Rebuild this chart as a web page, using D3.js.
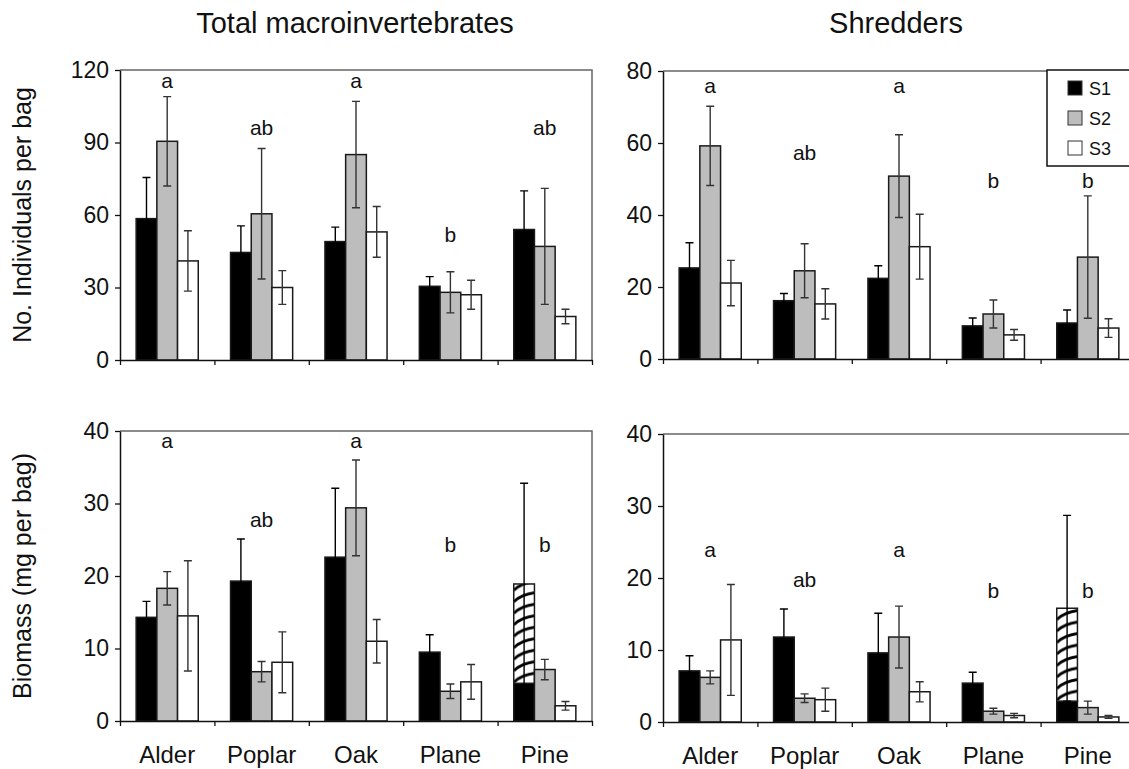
<!DOCTYPE html>
<html>
<head>
<meta charset="utf-8">
<script src="https://cdn.jsdelivr.net/npm/d3@7"></script>
<style>
  body { margin: 0; background: #fff; }
  text { font-family: "Liberation Sans", Arial, sans-serif; fill: #111; }
</style>
</head>
<body>
<div id="chart"></div>
<script>
// --- data ---
const categories = ["Alder", "Poplar", "Oak", "Plane", "Pine"];
const series = ["S1", "S2", "S3"];

// Total macroinvertebrates, No. individuals per bag
const totNoS1 = [58.5, 44.5, 49, 30.5, 54];
const totNoS2 = [90.5, 60.5, 85, 28, 47];
const totNoS3 = [41, 30, 53, 27, 18];
const totNoE1 = [17, 11, 6, 4, 16];
const totNoE2 = [18.5, 27, 22, 8.5, 24];
const totNoE3 = [12.5, 7, 10.5, 6, 3];
const totNoLetters = ["a", "ab", "a", "b", "ab"];
const totNoLetterAt = [112.5, 93, 112.5, 48.8, 93];

// Shredders, No. individuals per bag
const shrNoS1 = [25.3, 16.2, 22.4, 9.2, 10];
const shrNoS2 = [59.2, 24.5, 50.8, 12.5, 28.3];
const shrNoS3 = [21.1, 15.3, 31.2, 6.7, 8.6];
const shrNoE1 = [7, 2, 3.5, 2.2, 3.6];
const shrNoE2 = [11, 7.5, 11.5, 3.9, 17];
const shrNoE3 = [6.3, 4.2, 9, 1.5, 2.6];
const shrNoLetters = ["a", "ab", "a", "b", "b"];
const shrNoLetterAt = [73.9, 55.3, 73.9, 47.5, 47.5];

// Total macroinvertebrates, biomass (mg per bag)
const totBioS1 = [14.3, 19.3, 22.6, 9.5, 5.2];
const totBioS1Hatch = [0, 0, 0, 0, 18.9]; // hatched top of the stacked S1 bar
const totBioS2 = [18.3, 6.8, 29.4, 4.1, 7.1];
const totBioS3 = [14.5, 8.1, 11, 5.4, 2.1];
const totBioE1 = [2.2, 5.8, 9.5, 2.4, 13.9];
const totBioE2 = [2.3, 1.4, 6.6, 1, 1.4];
const totBioE3 = [7.6, 4.2, 3, 2.4, 0.6];
const totBioLetters = ["a", "ab", "a", "b", "b"];
const totBioLetterAt = [37.7, 26.8, 37.7, 23.3, 23.3];

// Shredders, biomass (mg per bag)
const shrBioS1 = [7.1, 11.8, 9.6, 5.4, 2.9];
const shrBioS1Hatch = [0, 0, 0, 0, 15.8];
const shrBioS2 = [6.2, 3.3, 11.8, 1.5, 2.0];
const shrBioS3 = [11.4, 3.1, 4.2, 0.9, 0.7];
const shrBioE1 = [2.1, 3.9, 5.5, 1.5, 12.9];
const shrBioE2 = [0.9, 0.6, 4.3, 0.4, 0.9];
const shrBioE3 = [7.7, 1.6, 1.4, 0.3, 0.2];
const shrBioLetters = ["a", "ab", "a", "b", "b"];
const shrBioLetterAt = [22.9, 18.75, 22.9, 17.2, 17.2];

const yTicksNoTot = [0, 30, 60, 90, 120];
const yTicksNoShr = [0, 20, 40, 60, 80];
const yTicksBio = [0, 10, 20, 30, 40];

const fills = { S1: "#000", S2: "#bdbdbd", S3: "#fff" };

const svg = d3.select("#chart")
    .append("svg")
    .attr("width", 1129)
    .attr("height", 769);

const defs = svg.append("defs");
let hatchId = 0;

function drawPanel(p) {
    const g = svg.append("g");
    const x = d3.scaleBand().domain(categories).range([p.x0, p.x1]);
    const xs = d3.scaleBand().domain(series).range([0, x.bandwidth()]).paddingOuter(0.78);
    const y = d3.scaleLinear().domain([0, p.max]).range([p.yBot, p.yTop]);

    // frame (top + right)
    g.append("path")
        .attr("d", `M${p.x0},${p.yTop}H${p.x1}V${p.yBot}`)
        .attr("fill", "none")
        .attr("stroke", "#666")
        .attr("stroke-width", 1.5);

    const vals = [p.s1, p.s2, p.s3];
    const errs = [p.e1, p.e2, p.e3];

    categories.forEach((c, i) => {
        series.forEach((s, j) => {
            const bx = x(c) + xs(s);
            const bw = xs.bandwidth();
            const v = vals[j][i];
            g.append("rect")
                .attr("x", bx).attr("y", y(v))
                .attr("width", bw).attr("height", y(0) - y(v))
                .attr("fill", fills[s])
                .attr("stroke", "#1a1a1a")
                .attr("stroke-width", 1.5);

            let top = v;
            if (j === 0 && p.hatch && p.hatch[i] > 0) {
                top = p.hatch[i];
                const id = "hatch" + (hatchId++);
                const pat = defs.append("pattern")
                    .attr("id", id)
                    .attr("patternUnits", "userSpaceOnUse")
                    .attr("x", bx).attr("y", y(v))
                    .attr("width", bw).attr("height", 11.5);
                pat.append("rect").attr("width", bw).attr("height", 11.5).attr("fill", "#fff");
                pat.append("path")
                    .attr("d", `M0,10.5 Q${bw * 0.4},3 ${bw},1.5`)
                    .attr("fill", "none").attr("stroke", "#000").attr("stroke-width", 2.8);
                g.append("rect")
                    .attr("x", bx).attr("y", y(top))
                    .attr("width", bw).attr("height", y(v) - y(top))
                    .attr("fill", `url(#${id})`)
                    .attr("stroke", "#1a1a1a")
                    .attr("stroke-width", 1.5);
            }

            // error bar
            const e = errs[j][i];
            const cx = bx + bw / 2;
            const lo = Math.max(0, top - e), hi = top + e;
            g.append("path")
                .attr("d", `M${cx},${y(lo)}V${y(hi)}M${cx - 4},${y(hi)}H${cx + 4}M${cx - 4},${y(lo)}H${cx + 4}`)
                .attr("stroke", j === 0 ? "#000" : "#333")
                .attr("stroke-width", 1.4)
                .attr("fill", "none");
        });

        g.append("text")
            .attr("x", x(c) + x.bandwidth() / 2)
            .attr("y", y(p.letterAt[i]))
            .attr("text-anchor", "middle")
            .style("font-size", "21px")
            .text(p.letters[i]);
    });

    // y axis
    const ya = g.append("g")
        .attr("transform", `translate(${p.x0},0)`)
        .call(d3.axisLeft(y).tickValues(p.ticks).tickSize(5).tickPadding(6).tickSizeOuter(0));
    ya.select(".domain").attr("stroke", "#111").attr("stroke-width", 1.5);
    ya.selectAll(".tick line").attr("stroke", "#111").attr("stroke-width", 1.3);
    ya.selectAll(".tick text").style("font-size", "23px").attr("fill", "#111");

    // x axis with ticks on category boundaries
    const xb = d3.scaleLinear().domain([0, categories.length]).range([p.x0, p.x1]);
    const xa = g.append("g")
        .attr("transform", `translate(0,${p.yBot})`)
        .call(d3.axisBottom(xb).tickValues(d3.range(categories.length + 1)).tickFormat("").tickSize(5).tickSizeOuter(0));
    xa.select(".domain").attr("stroke", "#111").attr("stroke-width", 1.5);
    xa.selectAll(".tick line").attr("stroke", "#111").attr("stroke-width", 1.3);

    if (p.labels) {
        g.selectAll(".xlab")
            .data(categories)
            .enter().append("text")
            .attr("x", d => x(d) + x.bandwidth() / 2)
            .attr("y", p.yBot + 42)
            .attr("text-anchor", "middle")
            .style("font-size", "24px")
            .text(d => d);
    }
    return g;
}

drawPanel({ x0: 120, x1: 592, yTop: 70, yBot: 360, max: 120, ticks: yTicksNoTot,
    s1: totNoS1, s2: totNoS2, s3: totNoS3, e1: totNoE1, e2: totNoE2, e3: totNoE3,
    letters: totNoLetters, letterAt: totNoLetterAt });
drawPanel({ x0: 663, x1: 1135, yTop: 71, yBot: 359, max: 80, ticks: yTicksNoShr,
    s1: shrNoS1, s2: shrNoS2, s3: shrNoS3, e1: shrNoE1, e2: shrNoE2, e3: shrNoE3,
    letters: shrNoLetters, letterAt: shrNoLetterAt });
drawPanel({ x0: 120, x1: 592, yTop: 431, yBot: 721, max: 40, ticks: yTicksBio, labels: true,
    s1: totBioS1, hatch: totBioS1Hatch, s2: totBioS2, s3: totBioS3, e1: totBioE1, e2: totBioE2, e3: totBioE3,
    letters: totBioLetters, letterAt: totBioLetterAt });
drawPanel({ x0: 663, x1: 1135, yTop: 434, yBot: 722, max: 40, ticks: yTicksBio, labels: true,
    s1: shrBioS1, hatch: shrBioS1Hatch, s2: shrBioS2, s3: shrBioS3, e1: shrBioE1, e2: shrBioE2, e3: shrBioE3,
    letters: shrBioLetters, letterAt: shrBioLetterAt });

// column titles
svg.append("text").attr("x", 355).attr("y", 33).attr("text-anchor", "middle")
    .style("font-size", "29px").text("Total macroinvertebrates");
svg.append("text").attr("x", 896).attr("y", 33).attr("text-anchor", "middle")
    .style("font-size", "29px").text("Shredders");

// y titles
svg.append("text").attr("transform", "translate(31,215) rotate(-90)")
    .attr("text-anchor", "middle").style("font-size", "25px").text("No. Individuals per bag");
svg.append("text").attr("transform", "translate(31,576) rotate(-90)")
    .attr("text-anchor", "middle").style("font-size", "25px").text("Biomass (mg per bag)");

// legend
const leg = svg.append("g");
leg.append("rect").attr("x", 1047).attr("y", 70).attr("width", 100).attr("height", 96)
    .attr("fill", "#fff").attr("stroke", "#111").attr("stroke-width", 1.5);
series.forEach((s, i) => {
    const cy = 88 + i * 30;
    leg.append("rect").attr("x", 1068).attr("y", cy - 7).attr("width", 14).attr("height", 14)
        .attr("fill", fills[s]).attr("stroke", "#333").attr("stroke-width", 1);
    leg.append("text").attr("x", 1089).attr("y", cy + 7).style("font-size", "18px").text(s);
});
</script>
</body>
</html>
